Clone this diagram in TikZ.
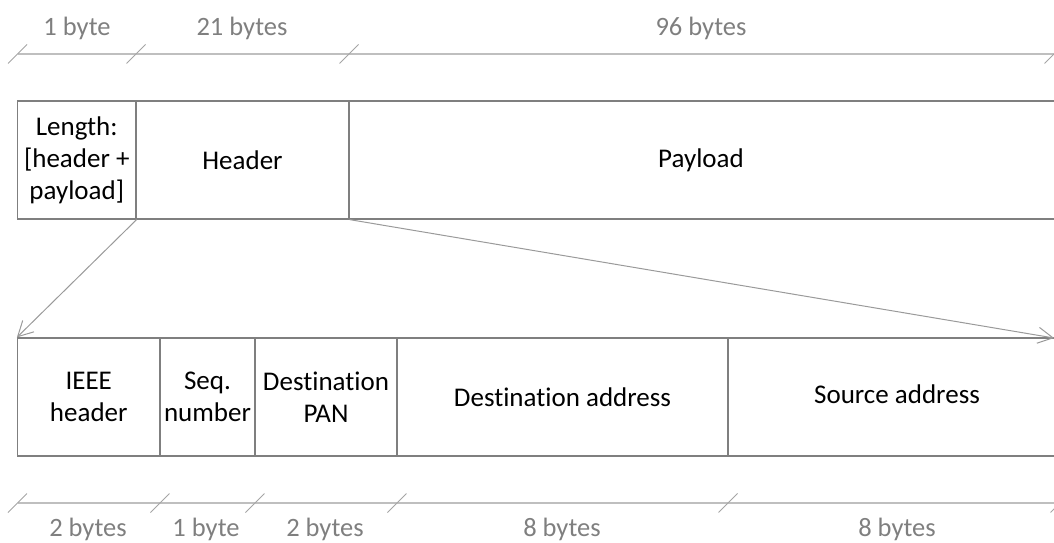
\documentclass[tikz,border=0pt]{standalone}
\usepackage{fontspec}
\setmainfont{Carlito}[Ligatures=NoCommon]
\usetikzlibrary{arrows.meta,calc}
\definecolor{boxline}{HTML}{7F7F7F}
\definecolor{scaleline}{HTML}{BFBFBF}
\definecolor{labelgray}{HTML}{7F7F7F}
\definecolor{arrowgray}{HTML}{9A9A9A}
\tikzset{
  field/.style={draw=boxline, line width=1.2pt, inner sep=0pt, minimum height=118pt,
    align=center, font=\fontsize{27}{32}\selectfont, text=black},
  scalebar/.style={draw=scaleline, line width=1.3pt},
  tick/.style={draw=boxline!70, line width=0.9pt},
  sizelabel/.style={anchor=base, text=labelgray, font=\fontsize{26.5}{32}\selectfont, inner sep=0pt},
  zoomarrow/.style={draw=arrowgray, line width=1pt, -{Straight Barb[length=15pt,width=16pt,line width=1pt]}}
}
\begin{document}
\begin{tikzpicture}[x=1pt,y=-1pt]
\useasboundingbox (0,0) rectangle (1054,543);
\clip (0,0) rectangle (1054,543);
% top row of fields
\node[field, minimum width=118.5pt] (len) at (76.75,160) {Length:\\{}[header +\\payload]};
\node[field, minimum width=213pt] (hdr) at (242.5,160) {Header};
\node[field, minimum width=741pt] (pay) at (719.5,160) {};
\node (paytext) at (701,160) {\fontsize{27}{32}\selectfont Payload};
% bottom row of fields
\node[field, minimum width=142.5pt] (ieee) at (88.75,397) {IEEE\\header};
\node[field, minimum width=95pt] (seq) at (207.5,397) {Seq.\\number};
\node[field, minimum width=142pt] (pan) at (326,397) {Destination\\PAN};
\node[field, minimum width=331pt] (daddr) at (562.5,397) {Destination address};
\node[field, minimum width=342pt] (saddr) at (899,397) {};
\node (saddrtext) at (897,394) {\fontsize{27}{32}\selectfont Source address};
% top scale
\coordinate (t0) at (17.5,54);
\coordinate (t1) at (136,54);
\coordinate (t2) at (349,54);
\coordinate (t3) at (1054,54);
\draw[scalebar] (t0) -- (1060,54);
\foreach \c in {t0,t1,t2,t3} \draw[tick] ($(\c)+(-9.5,9.5)$) -- ($(\c)+(9.5,-9.5)$);
\node[sizelabel] (l1) at (77,36) {1 byte};
\node[sizelabel] (l21) at (242,36) {21 bytes};
\node[sizelabel] (l96) at (701,36) {96 bytes};
% bottom scale
\coordinate (b0) at (17.5,503);
\coordinate (b1) at (160,503);
\coordinate (b2) at (255,503);
\coordinate (b3) at (397,503);
\coordinate (b4) at (728,503);
\coordinate (b5) at (1060,503);
\draw[scalebar] (b0) -- (b5);
\foreach \c in {b0,b1,b2,b3,b4,b5} \draw[tick] ($(\c)+(-9.5,9.5)$) -- ($(\c)+(9.5,-9.5)$);
\node[sizelabel] (m1) at (88,536) {2 bytes};
\node[sizelabel] (m2) at (206,536) {1 byte};
\node[sizelabel] (m3) at (325,536) {2 bytes};
\node[sizelabel] (m4) at (562,536) {8 bytes};
\node[sizelabel] (m5) at (897,536) {8 bytes};
% zoom arrows
\coordinate (rtip) at (1054,338);
\draw[zoomarrow] (len.south east) -- (ieee.north west);
\draw[zoomarrow] (hdr.south east) -- (rtip);
\end{tikzpicture}
\end{document}
